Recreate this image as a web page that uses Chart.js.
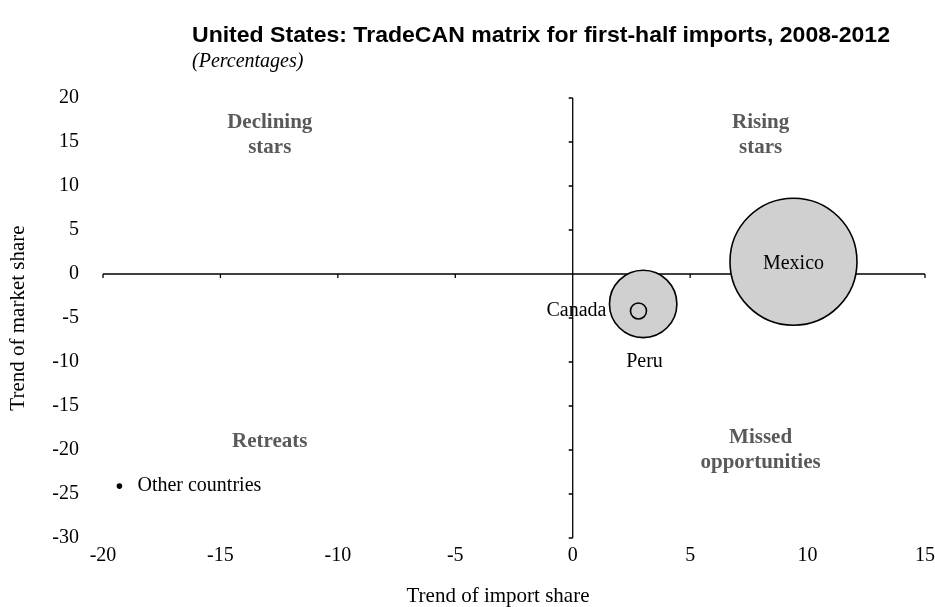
<!DOCTYPE html>
<html>
<head>
<meta charset="utf-8">
<script src="https://cdn.jsdelivr.net/npm/chart.js@4/dist/chart.umd.min.js"></script>
<style>
  html, body { margin: 0; padding: 0; background: #fff; }
  #wrap { width: 935px; height: 607px; position: relative; }
</style>
</head>
<body>
<div id="wrap"><canvas id="matrix"></canvas></div>
<script>
// Datos (tendencias en %)
const countries = ['Mexico', 'Canada', 'Peru', 'Other countries'];
const importShareTrend = [9.4, 3.0, 2.8, -19.3];
const marketShareTrend = [1.4, -3.4, -4.2, -24.1];
const bubbleRadius = [63.5, 33.7, 8, 2];

const xTicks = [-20, -15, -10, -5, 0, 5, 10, 15];
const yTicks = [20, 15, 10, 5, 0, -5, -10, -15, -20, -25, -30];

const quadrants = [
    { lines: ['Declining', 'stars'], x: -12.9, y: 17.2 },
    { lines: ['Rising', 'stars'], x: 8.0, y: 17.2 },
    { lines: ['Retreats'], x: -12.9, y: -19.0 },
    { lines: ['Missed', 'opportunities'], x: 8.0, y: -18.6 }
];

const SERIF = '"Liberation Serif", "Times New Roman", serif';

// Ejes que se cruzan en el origen, con sus marcas
const crossAxes = {
    id: 'crossAxes',
    beforeDatasetsDraw(chart) {
        const { ctx, chartArea, scales } = chart;
        const x0 = scales.x.getPixelForValue(0);
        const y0 = scales.y.getPixelForValue(0);
        ctx.save();
        ctx.strokeStyle = '#000';
        ctx.lineWidth = 1.3;
        ctx.beginPath();
        ctx.moveTo(chartArea.left, y0);
        ctx.lineTo(chartArea.right, y0);
        ctx.moveTo(x0, chartArea.top);
        ctx.lineTo(x0, chartArea.bottom);
        xTicks.forEach(v => {
            const px = scales.x.getPixelForValue(v);
            ctx.moveTo(px, y0);
            ctx.lineTo(px, y0 + 4);
        });
        yTicks.forEach(v => {
            const py = scales.y.getPixelForValue(v);
            ctx.moveTo(x0, py);
            ctx.lineTo(x0 - 4, py);
        });
        ctx.stroke();

        // Nombres de cuadrantes
        ctx.fillStyle = '#595959';
        ctx.font = 'bold 21px ' + SERIF;
        ctx.textAlign = 'center';
        ctx.textBaseline = 'middle';
        quadrants.forEach(q => {
            const px = scales.x.getPixelForValue(q.x);
            const py = scales.y.getPixelForValue(q.y);
            q.lines.forEach((t, i) => ctx.fillText(t, px, py + i * 25));
        });
        ctx.restore();
    },
    afterDatasetsDraw(chart) {
        const { ctx } = chart;
        const meta = chart.getDatasetMeta(0);
        ctx.save();
        ctx.fillStyle = '#000';
        ctx.font = '20px ' + SERIF;
        ctx.textBaseline = 'middle';
        meta.data.forEach((el, i) => {
            const name = countries[i];
            const r = bubbleRadius[i];
            if (name === 'Mexico') {
                ctx.textAlign = 'center';
                ctx.fillText(name, el.x, el.y + 2);
            } else if (name === 'Canada') {
                ctx.textAlign = 'right';
                ctx.fillText(name, el.x - r - 3, el.y + 7);
            } else if (name === 'Peru') {
                ctx.textAlign = 'center';
                ctx.fillText(name, el.x + 6, el.y + 51);
            } else {
                ctx.textAlign = 'left';
                ctx.fillText(name, el.x + 18, el.y);
            }
        });
        ctx.restore();
    },
    afterDraw(chart) {
        const { ctx, chartArea } = chart;
        ctx.save();
        ctx.fillStyle = '#000';
        ctx.textAlign = 'left';
        ctx.textBaseline = 'middle';
        // Título ajustado al ancho del original
        const title = 'United States: TradeCAN matrix for first-half imports, 2008-2012';
        ctx.font = 'bold 22px "Liberation Sans", Arial, sans-serif';
        const w = ctx.measureText(title).width;
        ctx.save();
        ctx.translate(192, 36);
        ctx.scale(698 / w, 1);
        ctx.fillText(title, 0, 0);
        ctx.restore();
        ctx.font = 'italic 20px ' + SERIF;
        ctx.fillText('(Percentages)', 192, 62);

        // Títulos de los ejes
        ctx.font = '21px ' + SERIF;
        ctx.textAlign = 'center';
        ctx.fillText('Trend of import share', 498, 596);
        ctx.translate(18, (chartArea.top + chartArea.bottom) / 2);
        ctx.rotate(-Math.PI / 2);
        ctx.fillText('Trend of market share', 0, 0);
        ctx.restore();
    }
};

new Chart(document.getElementById('matrix'), {
    type: 'bubble',
    data: {
        datasets: [{
            data: countries.map((c, i) => ({
                x: importShareTrend[i],
                y: marketShareTrend[i],
                r: bubbleRadius[i]
            })),
            backgroundColor: countries.map(c => c === 'Other countries' ? '#000' : '#d0d0d0'),
            borderColor: '#000',
            borderWidth: 1.6
        }]
    },
    options: {
        responsive: true,
        maintainAspectRatio: false,
        animation: false,
        events: [],
        layout: { autoPadding: false, padding: { top: 98, right: 10, left: 0, bottom: 0 } },
        plugins: {
            legend: { display: false },
            tooltip: { enabled: false }
        },
        scales: {
            x: {
                type: 'linear',
                min: -20,
                max: 15,
                grid: { display: false, drawTicks: false },
                border: { display: false },
                ticks: {
                    stepSize: 5,
                    padding: 6,
                    color: '#000',
                    font: { family: SERIF, size: 20 }
                },
                afterFit(scale) {
                    scale.height = 69;
                    scale.paddingLeft = 0;
                    scale.paddingRight = 0;
                }
            },
            y: {
                type: 'linear',
                min: -30,
                max: 20,
                grid: { display: false, drawTicks: false },
                border: { display: false },
                ticks: {
                    stepSize: 5,
                    padding: 24,
                    color: '#000',
                    font: { family: SERIF, size: 20 }
                },
                afterFit(scale) {
                    scale.width = 103;
                    scale.paddingTop = 0;
                    scale.paddingBottom = 0;
                }
            }
        }
    },
    plugins: [crossAxes]
});
</script>
</body>
</html>
